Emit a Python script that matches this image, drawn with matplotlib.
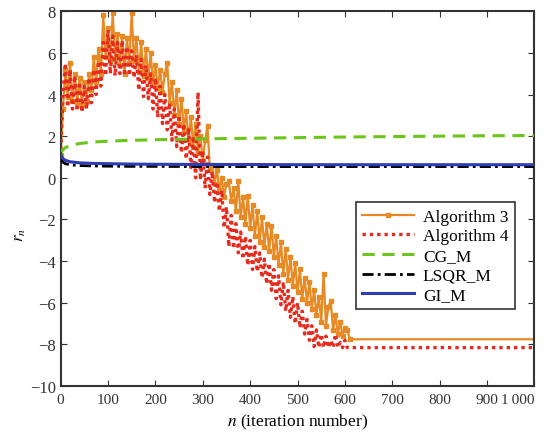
import numpy as np
import matplotlib
matplotlib.use("Agg")
import matplotlib.pyplot as plt

# ---- data ----
noisy_step = 5
alg3_noisy = [1.1, 3.3, 5.2, 3.9, 5.5, 3.7, 5.0, 3.6, 4.8, 3.5,
              4.6, 3.7, 5.0, 4.2, 5.8, 4.6, 6.2, 5.0, 7.8, 5.8,
              7.2, 5.6, 7.9, 5.7, 6.9, 5.4, 6.8, 5.0, 6.7, 5.5,
              7.9, 5.6, 6.7, 5.1, 6.5, 4.9, 6.2, 4.8, 6.0, 4.5,
              5.4, 4.3, 5.2, 4.1, 5.0, 5.5, 3.6, 4.6, 3.0, 4.2,
              2.6, 3.8, 2.3, 3.2, 1.8, 2.9, 1.5, 2.6, 1.2, 2.0,
              0.8, 1.8, 2.5, 0.4, 0.6, -0.3, 0.4, -0.6, 0.0, -0.9,
              -0.3, -0.15, -1.1, -0.5, -1.6, -0.15, -1.9, -0.9, -2.2, -0.85,
              -2.4, -1.3, -2.8, -1.6, -3.1, -1.9, -3.3, -2.2, -3.5, -2.3,
              -3.8, -2.8, -4.2, -3.1, -4.6, -3.4, -4.9, -3.8, -5.2, -4.1,
              -5.5, -4.4, -5.8, -4.8, -6.0, -5.0, -6.3, -5.4, -6.6, -5.7,
              -6.9, -4.6, -7.1, -6.2, -5.9, -7.3, -6.6, -7.5, -6.9, -7.6,
              -7.2, -7.3, -7.75]
alg3_final = -7.75

alg4_noisy = [1.0, 4.0, 5.5, 3.4, 5.2, 3.3, 4.9, 3.2, 4.6, 3.15,
              4.4, 3.3, 4.8, 3.6, 5.2, 4.0, 5.6, 4.4, 6.5, 4.9,
              7.1, 5.0, 6.8, 4.9, 6.5, 5.0, 6.6, 4.9, 6.3, 4.9,
              6.1, 4.8, 5.9, 4.2, 5.7, 3.9, 5.4, 3.8, 5.0, 3.3,
              4.8, 2.9, 4.4, 2.6, 4.0, 2.3, 3.6, 1.8, 3.3, 1.5,
              3.0, 1.2, 2.6, 0.9, 2.4, 0.5, 2.0, 0.0, 4.1, -0.1,
              1.3, -0.5, 1.0, -0.8, 0.3, -1.2, -0.2, -1.6, -0.6, -2.4,
              -1.4, -3.3, -1.8, -3.4, -2.2, -3.6, -2.6, -3.9, -2.8, -4.2,
              -3.0, -4.4, -3.3, -4.5, -3.6, -4.8, -3.9, -5.1, -4.1, -5.4,
              -4.4, -5.8, -4.7, -6.1, -5.0, -6.4, -5.4, -6.7, -5.7, -7.0,
              -6.0, -7.2, -6.4, -7.5, -6.8, -7.8, -7.1, -8.1, -7.3, -8.15,
              -7.5, -8.15, -7.6, -8.15, -7.8, -8.15, -7.5, -8.15, -7.9, -8.15,
              -7.8, -8.15]
alg4_final = -8.15

smooth_n = [0, 2, 5, 10, 20, 40, 70, 100, 150, 200, 300, 400, 500, 600, 700, 800, 900, 1000]
cg_m   = [1.1, 1.25, 1.35, 1.45, 1.55, 1.65, 1.72, 1.76, 1.80, 1.83, 1.87, 1.90, 1.93, 1.96, 1.98, 2.00, 2.02, 2.03]
lsqr_m = [0.95, 0.85, 0.75, 0.68, 0.62, 0.59, 0.57, 0.56, 0.55, 0.55, 0.54, 0.54, 0.54, 0.54, 0.54, 0.54, 0.54, 0.54]
gi_m   = [1.15, 1.02, 0.92, 0.84, 0.77, 0.72, 0.69, 0.68, 0.66, 0.65, 0.64, 0.64, 0.63, 0.63, 0.63, 0.63, 0.63, 0.63]

x_ticks = [0, 100, 200, 300, 400, 500, 600, 700, 800, 900, 1000]
x_tick_labels = ["0", "100", "200", "300", "400", "500", "600", "700", "800", "900", "1\u2009000"]
y_ticks = [-10, -8, -6, -4, -2, 0, 2, 4, 6, 8]
y_tick_labels = ["\u221210", "\u22128", "\u22126", "\u22124", "\u22122", "0", "2", "4", "6", "8"]
n_max = 1000

# ---- build series ----
n3 = np.append(np.arange(len(alg3_noisy)) * noisy_step, n_max)
y3 = np.append(np.array(alg3_noisy), alg3_final)
n4 = np.append(np.arange(len(alg4_noisy)) * noisy_step, n_max)
y4 = np.append(np.array(alg4_noisy), alg4_final)

plt.rcParams['font.family'] = ['Liberation Serif', 'DejaVu Serif']
plt.rcParams['mathtext.fontset'] = 'stix'

fig = plt.figure(figsize=(5.51, 4.35), dpi=100)
ax = fig.add_axes([0.110, 0.110, 0.860, 0.862])

ax.plot(n3, y3, color='#E58A25', lw=1.6, marker='s', markersize=2.5,
        markevery=list(range(len(n3) - 1)), label='Algorithm 3', zorder=2)
ax.plot(n4, y4, color='#E62A1E', lw=2.4, linestyle=(0, (1, 1.2)), label='Algorithm 4', zorder=3)
ax.plot(smooth_n, cg_m, color='#6CC51A', lw=2.2, linestyle=(0, (4, 2.5)), label='CG_M', zorder=4)
ax.plot(smooth_n, lsqr_m, color='black', lw=2.0, linestyle=(0, (4, 1.5, 1, 1.5)), label='LSQR_M', zorder=4)
ax.plot(smooth_n, gi_m, color='#2E3DB5', lw=2.2, label='GI_M', zorder=5)

ax.set_xlim(0, n_max)
ax.set_ylim(-10, 8)
ax.set_xticks(x_ticks)
ax.set_xticklabels(x_tick_labels)
ax.get_xticklabels()[-1].set_horizontalalignment('right')
ax.set_yticks(y_ticks)
ax.set_yticklabels(y_tick_labels)
ax.tick_params(direction='in', top=True, right=True, labelsize=11, length=4, width=0.8, colors='#333333')
ax.tick_params(axis='y', labelsize=12)
ax.tick_params(axis='x', pad=5)
for s in ax.spines.values():
    s.set_linewidth(1.5)
    s.set_color('#333333')

ax.set_xlabel(r'$n$ (iteration number)', fontsize=12.5)
ax.set_ylabel(r'$r_n$', fontsize=12)
ax.yaxis.set_label_coords(-0.068, 0.405)

leg = ax.legend(loc='lower right', bbox_to_anchor=(0.958, 0.205), fontsize=12.5,
                frameon=True, fancybox=False, edgecolor='#333333', handlelength=3.0,
                borderpad=0.35, labelspacing=0.2, handletextpad=0.5, borderaxespad=0)
leg.get_frame().set_linewidth(1.2)
leg.get_frame().set_alpha(1)

fig.savefig('out.png', dpi=100)
